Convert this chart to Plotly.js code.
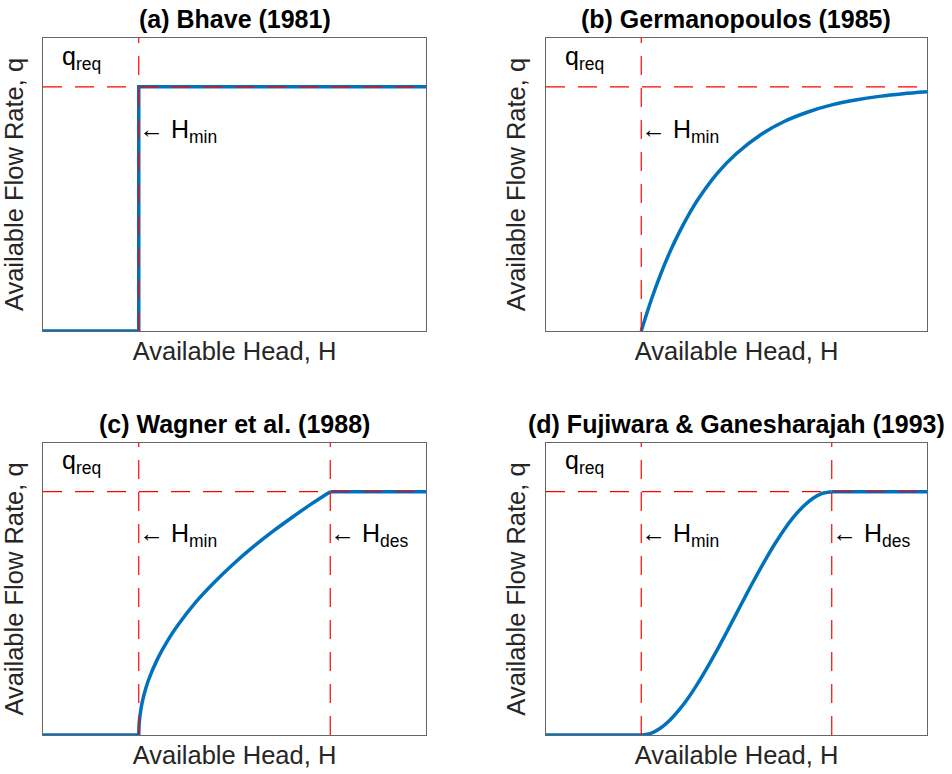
<!DOCTYPE html>
<html>
<head>
<meta charset="utf-8">
<script src="https://cdn.plot.ly/plotly-3.0.1.min.js"></script>
<style>html,body{margin:0;padding:0;background:#fff;}#chart{width:952px;height:774px;}</style>
</head>
<body>
<div id="chart"></div>
<script>
// ---- data ----
const H_MIN = 1, H_DES = 3, Q_REQ = 1, H_MAX = 4, Q_MAX = 1.2;

const panelTitles = ["(a) Bhave (1981)", "(b) Germanopoulos (1985)", "(c) Wagner et al. (1988)", "(d) Fujiwara & Ganesharajah (1993)"];
const xLabel = "Available Head, H";
const yLabel = "Available Flow Rate, q";

const bhaveH = [0, 1, 1, 4];
const bhaveQ = [0, 0, 1, 1];

const germH = [1, 1.1, 1.2, 1.3, 1.4, 1.5, 1.6, 1.8, 2.0, 2.25, 2.5, 2.75, 3.0, 3.25, 3.5, 3.75, 4.0];
const germQ = [0, 0.122, 0.229, 0.323, 0.405, 0.478, 0.542, 0.647, 0.727, 0.803, 0.858, 0.897, 0.926, 0.946, 0.961, 0.972, 0.980];

const wagH = [0, 1, 1.005, 1.02, 1.05, 1.1, 1.2, 1.3, 1.4, 1.6, 1.8, 2.0, 2.2, 2.4, 2.6, 2.8, 3.0, 4.0];
const wagQ = [0, 0, 0.050, 0.100, 0.158, 0.224, 0.316, 0.387, 0.447, 0.548, 0.632, 0.707, 0.775, 0.837, 0.894, 0.949, 1, 1];

const fujH = [0, 1, 1.1, 1.2, 1.3, 1.4, 1.5, 1.6, 1.7, 1.8, 1.9, 2.0, 2.1, 2.2, 2.3, 2.4, 2.5, 2.6, 2.7, 2.8, 2.9, 3.0, 4.0];
const fujQ = [0, 0, 0.007, 0.028, 0.061, 0.104, 0.156, 0.216, 0.282, 0.352, 0.425, 0.5, 0.575, 0.648, 0.718, 0.784, 0.844, 0.896, 0.939, 0.972, 0.993, 1, 1];

// ---- styles ----
const BLUE = "#0072BD", RED = "#FF0000";
const DASH = "19px,13px";
const FONT = "Liberation Sans, Arial, Helvetica, sans-serif";

const curves = [[bhaveH, bhaveQ], [germH, germQ], [wagH, wagQ], [fujH, fujQ]];
const hasDes = [false, false, true, true];

const traces = [];
function blue(x, y, xa, ya, spline) {
  traces.push({x: x, y: y, xaxis: xa, yaxis: ya, mode: "lines",
    line: {color: BLUE, width: 3.5, shape: spline ? "spline" : "linear", smoothing: 0.8}, hoverinfo: "skip"});
}
curves.forEach((c, i) => {
  const xa = "x" + (i === 0 ? "" : i + 1), ya = "y" + (i === 0 ? "" : i + 1);
  const hx = c[0], qy = c[1];
  if (i === 0) {
    blue(hx, qy, xa, ya, false);
  } else if (i === 1) {
    blue(hx, qy, xa, ya, true);
  } else {
    // flat below H_min, smooth between H_min and H_des, flat above H_des
    const iMin = hx.indexOf(H_MIN), iDes = hx.indexOf(H_DES);
    blue(hx.slice(0, iMin + 1), qy.slice(0, iMin + 1), xa, ya, false);
    blue(hx.slice(iMin, iDes + 1), qy.slice(iMin, iDes + 1), xa, ya, true);
    blue(hx.slice(iDes), qy.slice(iDes), xa, ya, false);
  }
  traces.push({x: [0, H_MAX], y: [Q_REQ, Q_REQ], xaxis: xa, yaxis: ya, mode: "lines", line: {color: RED, width: 1.2, dash: DASH}, hoverinfo: "skip"});
  traces.push({x: [H_MIN, H_MIN], y: [0, Q_MAX], xaxis: xa, yaxis: ya, mode: "lines", line: {color: RED, width: 1.2, dash: DASH}, hoverinfo: "skip"});
  if (hasDes[i]) traces.push({x: [H_DES, H_DES], y: [0, Q_MAX], xaxis: xa, yaxis: ya, mode: "lines", line: {color: RED, width: 1.2, dash: DASH}, hoverinfo: "skip"});
});

const W = 952, Hh = 774;
const xDom = [[43 / W, 426 / W], [546 / W, 927 / W]];
const yDom = [[1 - 331 / Hh, 1 - 38 / Hh], [1 - 735 / Hh, 1 - 443 / Hh]];

const layout = {
  width: W, height: Hh, showlegend: false,
  margin: {l: 0, r: 0, t: 0, b: 0},
  paper_bgcolor: "#fff", plot_bgcolor: "#fff",
  font: {family: FONT, color: "#262626"},
  annotations: []
};

for (let i = 0; i < 4; i++) {
  const col = i % 2, row = Math.floor(i / 2);
  const sfx = i === 0 ? "" : String(i + 1);
  layout["xaxis" + sfx] = {
    domain: xDom[col], range: [0, H_MAX], anchor: "y" + sfx,
    showline: true, mirror: true, linecolor: "#666", linewidth: 1,
    showgrid: false, zeroline: false, showticklabels: false, ticks: "",
    title: {text: xLabel, font: {size: 25.5, family: FONT, color: "#262626"}, standoff: 11}
  };
  layout["yaxis" + sfx] = {
    domain: yDom[row], range: [0, Q_MAX], anchor: "x" + sfx,
    showline: true, mirror: true, linecolor: "#666", linewidth: 1,
    showgrid: false, zeroline: false, showticklabels: false, ticks: "",
    title: {text: yLabel, font: {size: 25.5, family: FONT, color: "#262626"}, standoff: 12}
  };
  const xr = "x" + sfx, yr = "y" + sfx;
  // panel title
  layout.annotations.push({
    xref: "paper", yref: "paper",
    x: (xDom[col][0] + xDom[col][1]) / 2, y: yDom[row][1],
    yanchor: "bottom", xanchor: "center", yshift: 3,
    text: "<b>" + panelTitles[i].replace("&", "&amp;") + "</b>", showarrow: false,
    font: {size: 25, family: FONT, color: "#000"}
  });
  layout.annotations.push({
    xref: xr, yref: yr, x: 0.2, y: 1.12, xanchor: "left", yanchor: "middle", xshift: -2,
    text: "q<sub>req</sub>", showarrow: false, font: {size: 25, family: FONT, color: "#000"}
  });
  layout.annotations.push({
    xref: xr, yref: yr, x: H_MIN, y: 0.82, xanchor: "left", yanchor: "middle", xshift: -2,
    text: "\u2190 H<sub>min</sub>", showarrow: false, font: {size: 25, family: FONT, color: "#000"}
  });
  if (hasDes[i]) layout.annotations.push({
    xref: xr, yref: yr, x: H_DES, y: 0.82, xanchor: "left", yanchor: "middle", xshift: -2,
    text: "\u2190 H<sub>des</sub>", showarrow: false, font: {size: 25, family: FONT, color: "#000"}
  });
}

Plotly.newPlot("chart", traces, layout, {staticPlot: true, displayModeBar: false});
</script>
</body>
</html>
